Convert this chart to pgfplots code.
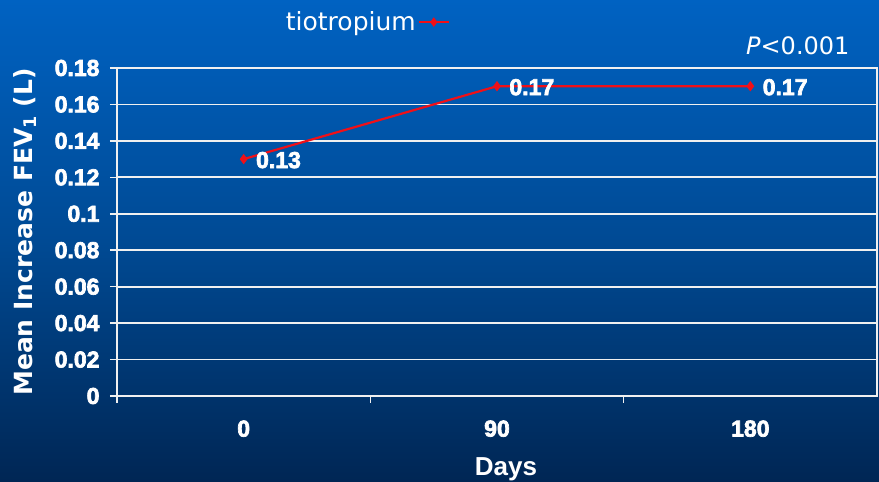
\documentclass[border=0pt]{standalone}
\usepackage{pgfplots}
\pgfplotsset{compat=1.18}
\usepackage{fontspec}
\setmainfont{DejaVu Sans}
\newfontfamily\tickfont{Liberation Sans Bold}[FakeBold=3]
\newfontfamily\lsb{Liberation Sans Bold}
\newfontfamily\dvb{DejaVu Sans Bold}
\usetikzlibrary{shadings}
\definecolor{bgtop}{RGB}{0,98,194}
\definecolor{bgmid}{RGB}{0,74,148}
\definecolor{bgbot}{RGB}{0,38,84}
\definecolor{lred}{RGB}{240,16,24}
\definecolor{gridw}{RGB}{240,240,240}
\begin{document}
\begin{tikzpicture}
\shade[top color=bgtop, bottom color=bgbot, middle color=bgmid] (0,0) rectangle (879pt,482pt);
\begin{axis}[
  at={(117pt,86pt)}, anchor=south west,
  width=760pt, height=328pt, scale only axis,
  clip=false,
  xmin=-0.5, xmax=2.5, ymin=0, ymax=0.18,
  xtick={0,1,2}, xticklabels={0,90,180},
  minor xtick={-0.5,0.5,1.5},
  ytick={0,0.02,0.04,0.06,0.08,0.1,0.12,0.14,0.16,0.18},
  yticklabels={0,0.02,0.04,0.06,0.08,0.1,0.12,0.14,0.16,0.18},
  xtick pos=bottom, ytick pos=left,
  tick align=outside,
  major tick length=7pt, minor tick length=7pt,
  major x tick style={draw=none},
  tick style={gridw, line width=1.6pt},
  minor tick style={gridw, line width=1.6pt},
  ymajorgrids,
  major grid style={gridw, line width=1.7pt},
  axis line style={gridw, line width=1.7pt},
  ticklabel style={text=white, font=\tickfont\fontsize{23}{23}\selectfont},
  xticklabel style={yshift=-14pt},
  yticklabel style={xshift=-7pt},
  ylabel={Mean Increase FEV\textsubscript{1} (L)},
  ylabel style={font=\dvb\fontsize{25}{25}\selectfont, text=white,
    at={([xshift=-92pt]axis description cs:0,0.5)}, anchor=center},
  xlabel={Days},
  xlabel style={font=\lsb\fontsize{26}{26}\selectfont, text=white,
    at={([xshift=9pt,yshift=-80pt]axis description cs:0.5,0)}, anchor=base},
  legend style={at={(axis description cs:0.3287,1.14)}, anchor=center,
    draw=none, fill=none, text=white, font=\fontsize{25}{25}\selectfont},
  legend plot pos=right,
  legend image code/.code={
    \draw[#1, line width=2pt] (7pt,0pt) -- (37pt,0pt);
    \draw[#1, mark=diamond*, mark size=3pt] plot coordinates {(22pt,0pt)};
  },
]
\addplot[lred, line width=2.2pt, mark=diamond*, mark size=3.4pt,
  point meta=explicit symbolic,
  nodes near coords,
  nodes near coords style={anchor=west, xshift=8pt, yshift=-1pt, text=white,
    font=\tickfont\fontsize{23}{23}\selectfont}]
  coordinates {(0,0.13)[0.13] (1,0.17)[0.17] (2,0.17)[0.17]};
\addlegendentry{tiotropium}
\node[anchor=east, inner sep=0pt, text=white, font=\fontsize{24}{24}\selectfont]
  at (axis description cs:0.964,1.067) {\textit{P}<0.001};
\end{axis}
\pgfresetboundingbox
\useasboundingbox (0,0) rectangle (879pt,482pt);
\end{tikzpicture}
\end{document}
